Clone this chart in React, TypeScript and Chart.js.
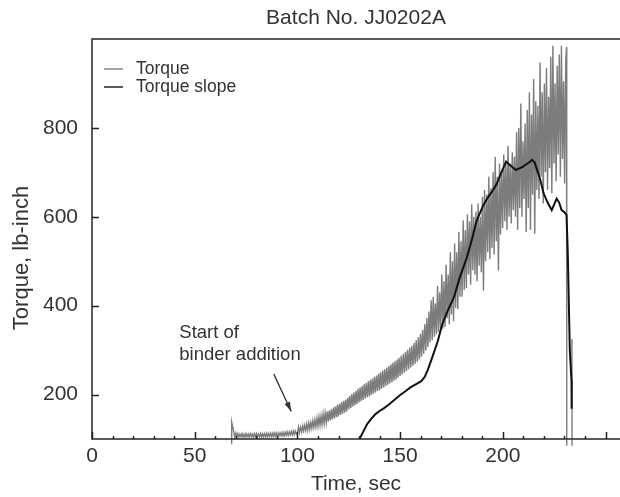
import React, { useEffect, useRef } from 'react';
import { Chart, registerables } from 'chart.js';

Chart.register(...registerables);

// ---------- text ----------
const TITLE = 'Batch No. JJ0202A';
const X_TITLE = 'Time, sec';
const Y_TITLE = 'Torque, lb-inch';
const LEGEND_LABELS = ['Torque', 'Torque slope'];
const NOTE_LINES = ['Start of', 'binder addition'];

// ---------- axes ----------
const X_MIN = 0;
const X_MAX = 258;
const Y_MIN = 100;
const Y_MAX = 1000;
const X_TICKS = [0, 50, 100, 150, 200];
const X_MINOR_STEP = 10;
const Y_TICKS = [200, 400, 600, 800];

// ---------- Torque (grey) ----------
// start spike
const TORQUE_HEAD_T = [68, 68];
const TORQUE_HEAD_V = [88, 138];
// 0.5 s samples, 69 s .. 99.5 s
const TORQUE_A_T0 = 69;
const TORQUE_A_STEP = 0.5;
const TORQUE_A = [
  116, 104, 113, 105, 112, 104, 111, 105, 112, 104,
  111, 104, 112, 105, 111, 104, 112, 105, 111, 104,
  112, 105, 112, 104, 111, 105, 112, 104, 112, 105,
  112, 105, 113, 105, 112, 106, 113, 105, 113, 106,
  114, 106, 113, 106, 114, 107, 114, 107, 115, 107,
  115, 108, 116, 108, 116, 109, 117, 109, 118, 110,
  118, 111,
];
// 0.5 s samples, 100 s .. 149.5 s
const TORQUE_B_T0 = 100;
const TORQUE_B_STEP = 0.5;
const TORQUE_B = [
  113, 127, 115, 126, 116, 130, 118, 131, 119, 134,
  120, 136, 122, 137, 124, 141, 126, 143, 128, 147,
  129, 150, 131, 152, 133, 156, 135, 158, 137, 162,
  139, 164, 142, 167, 144, 171, 146, 173, 149, 177,
  151, 179, 154, 183, 157, 186, 159, 189, 162, 193,
  167, 197, 170, 201, 173, 205, 176, 208, 179, 213,
  182, 216, 185, 219, 188, 223, 191, 226, 194, 230,
  196, 233, 199, 236, 202, 240, 205, 243, 208, 247,
  210, 250, 213, 254, 216, 257, 219, 261, 222, 264,
  225, 268, 228, 272, 231, 275, 234, 279, 238, 283,
];
// 0.52 s samples, 150 s .. 230.6 s
const TORQUE_C_T0 = 150;
const TORQUE_C_STEP = 0.52;
const TORQUE_C = [
  242, 287, 245, 292, 249, 296, 253, 301, 257, 306,
  261, 310, 265, 316, 269, 322, 274, 329, 279, 337,
  285, 345, 292, 358, 299, 372, 307, 387, 317, 412,
  322, 420, 330, 405, 336, 445, 341, 430, 345, 470,
  348, 455, 352, 492, 372, 470, 358, 520, 380, 500,
  365, 540, 395, 520, 392, 566, 420, 545, 420, 592,
  435, 570, 440, 605, 470, 590, 447, 628, 480, 600,
  470, 612, 455, 630, 490, 600, 475, 645, 434, 660,
  500, 650, 520, 690, 505, 665, 530, 700, 515, 735,
  545, 690, 479, 720, 560, 705, 575, 740, 590, 725,
  570, 760, 600, 720, 585, 745, 615, 735, 600, 790,
  570, 800, 620, 855, 600, 770, 640, 810, 566, 840,
  620, 880, 570, 830, 650, 910, 562, 860, 660, 850,
  640, 947, 690, 880, 630, 900, 700, 935, 660, 870,
  710, 960, 653, 985, 720, 900, 680, 940, 740, 965,
  690, 985, 730, 905, 675, 950,
];
// final drop lines
const TORQUE_TAIL_T = [231.0, 231.1, 232.0, 233.6, 233.7];
const TORQUE_TAIL_V = [982, 85, null, 325, 85];

// ---------- Torque slope (black) ----------
const SLOPE_T = [
  130.2, 132, 134, 136, 138, 140, 142, 144.4, 147, 150,
  152.4, 155, 158, 160.3, 162, 163.5, 165.5, 168.3, 170.5, 173,
  176.2, 179, 182.5, 185, 187.3, 189, 190.5, 192.5, 195.2, 196.8,
  198.4, 200, 201.6, 203, 204.6, 206.3, 208, 209.5, 211.1, 212.7,
  214.3, 215.5, 216.7, 218.2, 219.8, 221.8, 223.8, 225, 226.2, 227.4,
  228.6, 230, 231, 231.6, 232.6, 233.4, 233.5,
];
const SLOPE_V = [
  100, 116, 134, 146, 156, 163, 169, 177, 187, 199,
  207, 216, 224, 230, 240, 256, 282, 320, 358, 387,
  419, 463, 509, 550, 592, 610, 626, 642, 660, 672,
  690, 708, 724, 718, 712, 705, 709, 712, 717, 722,
  728, 722, 705, 684, 653, 632, 615, 628, 641, 632,
  615, 610, 604, 520, 300, 232, 168,
];

// ---------- annotation (data coordinates) ----------
const NOTE_AT = { x: 42.5, y: 339 };
const NOTE_LINE_GAP = 22;
const ARROW_FROM = { x: 88.5, y: 246 };
const ARROW_TO = { x: 97, y: 162 };

const FONT = '"Liberation Sans", Arial, Helvetica, sans-serif';
const TEXT = '#333333';
const TORQUE_COLOR = '#7c7c7c';
const SLOPE_COLOR = '#111111';

const decorations = {
  id: 'decorations',
  afterDraw(chart: any) {
    const { ctx, chartArea: a, scales } = chart;
    const xs = scales.x;
    const ys = scales.y;
    ctx.save();

    // frame
    ctx.strokeStyle = '#333';
    ctx.lineWidth = 1.6;
    ctx.strokeRect(a.left, a.top, a.right - a.left, a.bottom - a.top);

    // ticks (inward)
    ctx.strokeStyle = '#222';
    ctx.lineWidth = 1.5;
    ctx.beginPath();
    for (let v = X_MIN; v <= X_MAX; v += X_MINOR_STEP) {
      const px = Math.round(xs.getPixelForValue(v)) + 0.5;
      const major = v % 50 === 0;
      ctx.moveTo(px, a.bottom);
      ctx.lineTo(px, a.bottom - (major ? 7 : 3));
    }
    for (const v of Y_TICKS) {
      const py = Math.round(ys.getPixelForValue(v)) + 0.5;
      ctx.moveTo(a.left, py);
      ctx.lineTo(a.left + 7, py);
    }
    ctx.stroke();

    // titles
    ctx.fillStyle = TEXT;
    ctx.textAlign = 'center';
    ctx.textBaseline = 'middle';
    ctx.font = `21px ${FONT}`;
    const cx = (a.left + a.right) / 2 - 1;
    ctx.fillText(TITLE, cx, 18);
    ctx.fillText(X_TITLE, cx, 484);
    ctx.save();
    ctx.font = `22px ${FONT}`;
    ctx.translate(22, 258);
    ctx.rotate(-Math.PI / 2);
    ctx.fillText(Y_TITLE, 0, 0);
    ctx.restore();

    // legend
    const ds = chart.data.datasets;
    const legendColors = ['#a3a3a3', '#5a5a5a'];
    ctx.font = `17.5px ${FONT}`;
    ctx.textAlign = 'left';
    [0, 1].forEach((i) => {
      const y = 69 + i * 18;
      ctx.strokeStyle = legendColors[i];
      ctx.lineWidth = 2;
      ctx.beginPath();
      ctx.moveTo(104, y);
      ctx.lineTo(123, y);
      ctx.stroke();
      ctx.fillStyle = TEXT;
      ctx.fillText(LEGEND_LABELS[i] ?? ds[i].label, 136, y);
    });

    // annotation
    ctx.font = `18.5px ${FONT}`;
    ctx.fillStyle = TEXT;
    const nx = xs.getPixelForValue(NOTE_AT.x);
    const ny = ys.getPixelForValue(NOTE_AT.y);
    NOTE_LINES.forEach((t, i) => ctx.fillText(t, nx, ny + i * NOTE_LINE_GAP));
    const x1 = xs.getPixelForValue(ARROW_FROM.x);
    const y1 = ys.getPixelForValue(ARROW_FROM.y);
    const x2 = xs.getPixelForValue(ARROW_TO.x);
    const y2 = ys.getPixelForValue(ARROW_TO.y);
    ctx.strokeStyle = '#333';
    ctx.lineWidth = 1.3;
    ctx.beginPath();
    ctx.moveTo(x1, y1);
    ctx.lineTo(x2, y2);
    ctx.stroke();
    const ang = Math.atan2(y2 - y1, x2 - x1);
    const hl = 10;
    ctx.fillStyle = '#333';
    ctx.beginPath();
    ctx.moveTo(x2, y2);
    ctx.lineTo(x2 - hl * Math.cos(ang - 0.3), y2 - hl * Math.sin(ang - 0.3));
    ctx.lineTo(x2 - hl * Math.cos(ang + 0.3), y2 - hl * Math.sin(ang + 0.3));
    ctx.closePath();
    ctx.fill();

    ctx.restore();
  },
};

export default function App() {
  const ref = useRef<HTMLCanvasElement | null>(null);

  useEffect(() => {
    const canvas = ref.current;
    if (!canvas) return;

    const torqueData: any[] = [];
    TORQUE_HEAD_T.forEach((t, i) => torqueData.push({ x: t, y: TORQUE_HEAD_V[i] }));
    TORQUE_A.forEach((v, i) => torqueData.push({ x: TORQUE_A_T0 + i * TORQUE_A_STEP, y: v }));
    TORQUE_B.forEach((v, i) => torqueData.push({ x: TORQUE_B_T0 + i * TORQUE_B_STEP, y: v }));
    TORQUE_C.forEach((v, i) => torqueData.push({ x: TORQUE_C_T0 + i * TORQUE_C_STEP, y: v }));
    TORQUE_TAIL_T.forEach((t, i) => torqueData.push({ x: t, y: TORQUE_TAIL_V[i] }));
    const slopeData = SLOPE_T.map((t, i) => ({ x: t, y: SLOPE_V[i] }));

    const chart = new Chart(canvas, {
      type: 'line',
      data: {
        datasets: [
          {
            label: LEGEND_LABELS[1],
            data: slopeData,
            borderColor: SLOPE_COLOR,
            borderWidth: 2,
            pointRadius: 0,
            tension: 0,
            order: 0,
            clip: false,
          },
          {
            label: LEGEND_LABELS[0],
            data: torqueData,
            borderColor: TORQUE_COLOR,
            borderWidth: 1.4,
            pointRadius: 0,
            tension: 0,
            spanGaps: false,
            order: 1,
            clip: false,
          },
        ],
      },
      options: {
        responsive: false,
        animation: false,
        devicePixelRatio: 1,
        layout: { padding: { top: 39, left: 0, right: 8, bottom: 0 } },
        plugins: { legend: { display: false }, tooltip: { enabled: false }, title: { display: false } },
        scales: {
          x: {
            type: 'linear',
            min: X_MIN,
            max: X_MAX,
            grid: { display: false, drawTicks: false },
            border: { display: false },
            afterFit: (s: any) => { s.height = 58; },
            afterBuildTicks: (s: any) => { s.ticks = X_TICKS.map((v) => ({ value: v })); },
            ticks: {
              padding: 5,
              maxRotation: 0,
              color: TEXT,
              font: { family: FONT, size: 21 },
            },
          },
          y: {
            type: 'linear',
            min: Y_MIN,
            max: Y_MAX,
            grid: { display: false, drawTicks: false },
            border: { display: false },
            afterFit: (s: any) => { s.width = 92; },
            afterBuildTicks: (s: any) => { s.ticks = Y_TICKS.map((v) => ({ value: v })); },
            ticks: {
              padding: 14,
              color: TEXT,
              font: { family: FONT, size: 21 },
            },
          },
        },
      },
      plugins: [decorations],
    });

    return () => chart.destroy();
  }, []);

  return (
    <div
      style={{
        position: 'fixed',
        left: 0,
        top: 0,
        width: 620,
        height: 497,
        overflow: 'hidden',
        background: '#fff',
      }}
    >
      <canvas ref={ref} width={630} height={497} style={{ display: 'block' }} />
    </div>
  );
}
